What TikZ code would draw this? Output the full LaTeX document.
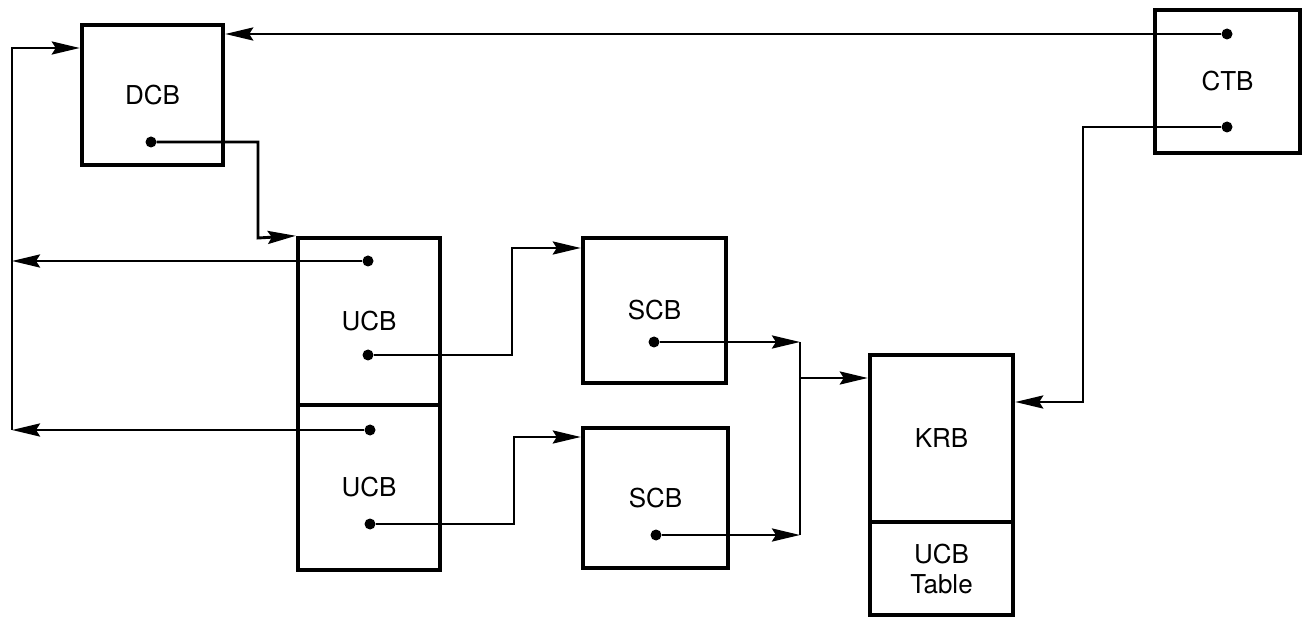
\documentclass[tikz,border=0pt]{standalone}
\usepackage{fontspec}
\setmainfont{TeX Gyre Heros}
\usetikzlibrary{arrows.meta}
\newcommand{\blocktext}{\fontsize{26}{30}\selectfont}
\tikzset{block/.style={draw,line width=4.4pt,inner sep=0,font=\blocktext,align=center},
  ptrdot/.style={circle,fill,inner sep=0,minimum size=11pt},
  ptrline/.style={line width=2.9pt},
  ptr/.style={ptrline,-{Stealth[length=28pt,width=13pt,inset=4pt]}}}
\begin{document}
\begin{tikzpicture}[x=1pt,y=-1pt]
\useasboundingbox (0,0) rectangle (1304,617);
\node[block,minimum width=141,minimum height=140] (dcb) at (152.5,95) {DCB};
\node[block,minimum width=145,minimum height=143] (ctb) at (1227.5,81.5) {CTB};
\node[block,minimum width=142,minimum height=167] (ucba) at (369,321.5) {UCB};
\node[block,minimum width=142,minimum height=165] (ucbb) at (369,487.5) {UCB};
\node[block,minimum width=143,minimum height=145] (scba) at (654.5,310.5) {SCB};
\node[block,minimum width=145,minimum height=140] (scbb) at (655.5,498) {SCB};
\node[block,minimum width=143,minimum height=167] (krb) at (941.5,438.5) {KRB};
\node[block,minimum width=143,minimum height=93] (krbtab) at (941.5,568.5) {UCB\\Table};
\node[ptrdot] (dcbp) at (151,142) {};
\node[ptrdot] (ctbpa) at (1227,34) {};\node[ptrdot] (ctbpb) at (1227,127) {};
\node[ptrdot] (ucbpa) at (368,261) {};\node[ptrdot] (ucbpb) at (368,355) {};
\node[ptrdot] (ucbpc) at (370,430) {};\node[ptrdot] (ucbpd) at (370,524) {};
\node[ptrdot] (scbpa) at (654,342) {};\node[ptrdot] (scbpb) at (656,535) {};
\coordinate (ucbin) at (258,238);
\coordinate (bustop) at (12,48);\coordinate (busbot) at (12,430);
\coordinate (scbain) at (512,248);\coordinate (scbbin) at (514,437);
\coordinate (mrgtop) at (800,342);\coordinate (mrgbot) at (800,535);\coordinate (mrgmid) at (800,378);
\coordinate (krbin) at (1083,402);
\draw[ptr] (ctbpa) -- (ctbpa -| dcb.east);
\draw[ptr] (ctbpb) -| (krbin) -- (krbin -| krb.east);
\draw[ptr] (dcbp) -| (ucbin) -- (ucba.north west);
\draw[ptr] (ucbpa) -- (ucbpa -| busbot);
\draw[ptr] (ucbpc) -- (busbot);
\draw[ptr] (busbot) -- (bustop) -- (bustop -| dcb.west);
\draw[ptr] (ucbpb) -| (scbain) -- (scbain -| scba.west);
\draw[ptr] (ucbpd) -| (scbbin) -- (scbbin -| scbb.west);
\draw[ptr] (scbpa) -- (mrgtop);
\draw[ptr] (scbpb) -- (mrgbot);
\draw[ptrline] (mrgtop) -- (mrgbot);
\draw[ptr] (mrgmid) -- (mrgmid -| krb.west);
\end{tikzpicture}
\end{document}
